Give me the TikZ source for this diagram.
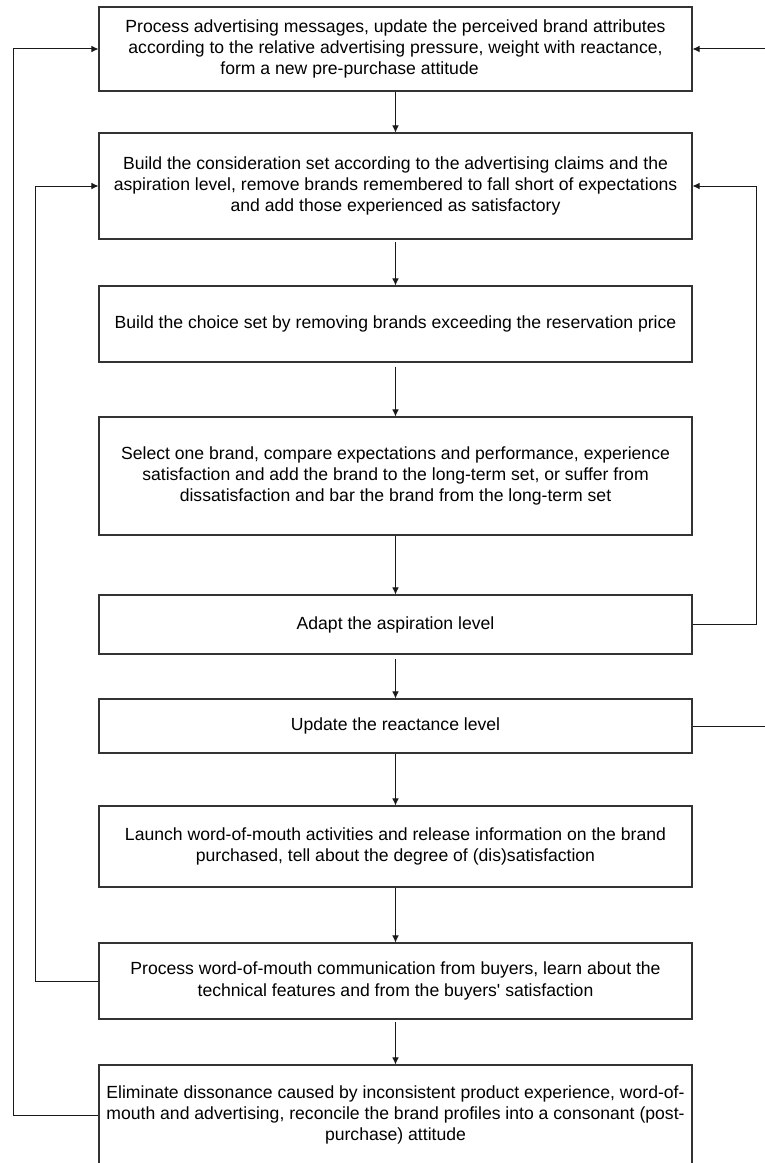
\documentclass[tikz,border=0pt]{standalone}
\usepackage{fontspec}
\setmainfont{Liberation Sans}
\usetikzlibrary{arrows.meta}

\begin{document}
\begin{tikzpicture}[x=0.75pt,y=-0.75pt,
	stage/.style={draw=black!80,line width=0.8pt,minimum width=444.75pt,inner sep=0pt,align=center,font=\fontsize{13.2pt}{16pt}\selectfont},
	flow/.style={draw=black!90,line width=0.75pt,-{Latex[length=5.25pt,width=5pt]}}]
	\useasboundingbox (0,0) rectangle (764,1163);
	\node[stage,minimum height=63pt] (advert) at (395.5,49) {Process advertising messages, update the perceived brand attributes\\according to the relative advertising pressure, weight with reactance,\\form a new pre-purchase attitude\hspace*{69pt}};
	\node[stage,minimum height=79.5pt] (consider) at (395.5,186) {Build the consideration set according to the advertising claims and the\\aspiration level, remove brands remembered to fall short of expectations\\and add those experienced as satisfactory};
	\node[stage,minimum height=57pt] (choice) at (395.5,324) {Build the choice set by removing brands exceeding the reservation price};
	\node[stage,minimum height=88.5pt] (select) at (395.5,476) {Select one brand, compare expectations and performance, experience\\satisfaction and add the brand to the long-term set, or suffer from\\dissatisfaction and bar the brand from the long-term set};
	\node[stage,minimum height=44.25pt] (aspire) at (395.5,624.5) {Adapt the aspiration level};
	\node[stage,minimum height=40.5pt] (reactance) at (395.5,726) {Update the reactance level};
	\node[stage,minimum height=60.75pt] (launch) at (395.5,846.5) {Launch word-of-mouth activities and release information on the brand\\purchased, tell about the degree of (dis)satisfaction};
	\node[stage,minimum height=57pt] (learn) at (395.5,981) {Process word-of-mouth communication from buyers, learn about the\\technical features and from the buyers\textquotesingle{} satisfaction};
	\node[stage,minimum height=75pt] (dissonance) at (395.5,1115) {Eliminate dissonance caused by inconsistent product experience, word-of-\\mouth and advertising, reconcile the brand profiles into a consonant (post-\\purchase) attitude};
	\draw[flow] (advert) -- (consider);
	\draw[flow,shorten <=2pt] (consider) -- (choice);
	\draw[flow,shorten <=3pt] (choice) -- (select);
	\draw[flow] (select) -- (aspire);
	\draw[flow,shorten <=3pt] (aspire) -- (reactance);
	\draw[flow] (reactance) -- (launch);
	\draw[flow] (launch) -- (learn);
	\draw[flow,shorten <=2pt] (learn) -- (dissonance);
	\draw[flow] (aspire.east) -- ++(64,0) |- (consider.east);
	\draw[flow] (reactance.east) -- ++(76,0) |- (advert.east);
	\draw[flow] (learn.west) -- ++(-63,0) |- (consider.west);
	\draw[flow] (dissonance.west) -- ++(-84.5,0) |- (advert.west);
\end{tikzpicture}
\end{document}
